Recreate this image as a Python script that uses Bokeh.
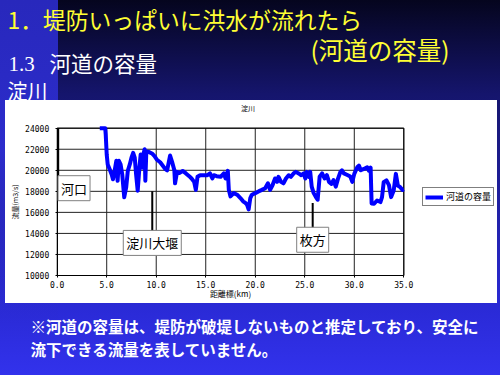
from bokeh.plotting import figure
from bokeh.models import (Range1d, Label, Legend, LegendItem, FixedTicker,
                          PrintfTickFormatter, LinearAxis)
from bokeh.embed import file_html
from bokeh.resources import INLINE

# ---------------- data ----------------
KM = [4.3, 4.85, 4.9, 5.0, 5.1, 5.3, 5.5, 5.63, 5.8, 5.97,
      6.1, 6.23, 6.4, 6.57, 6.77, 6.97, 7.13, 7.33, 7.5, 7.67,
      7.83, 7.97, 8.13, 8.3, 8.43, 8.57, 8.7, 8.83, 8.9, 9.0,
      9.23, 9.57, 9.83, 10.07, 10.4, 10.9, 11.1, 11.4, 11.6, 11.83,
      11.9, 12.1, 12.33, 12.67, 13.0, 13.33, 13.57, 13.83, 14.0, 14.17,
      14.43, 14.83, 15.17, 15.43, 15.67, 15.83, 16.1, 16.5, 16.83, 17.0,
      17.23, 17.33, 17.5, 17.83, 18.17, 18.5, 18.77, 19.0, 19.16, 19.33,
      19.5, 19.66, 20.0, 20.33, 20.67, 21.0, 21.28, 21.5, 21.75, 22.0,
      22.2, 22.35, 22.6, 22.85, 23.1, 23.37, 23.6, 23.87, 24.1, 24.38,
      24.65, 24.9, 25.05, 25.2, 25.4, 25.55, 25.7, 25.9, 26.1, 26.3,
      26.5, 26.75, 27.0, 27.23, 27.45, 27.7, 27.9, 28.13, 28.35, 28.6,
      28.75, 28.95, 29.3, 29.6, 29.8, 30.0, 30.3, 30.47, 30.65, 30.97,
      31.3, 31.47, 31.65, 31.75, 32.0, 32.3, 32.64, 32.8, 32.97, 33.25,
      33.5, 33.72, 33.98, 34.2, 34.4, 34.64, 34.87, 35.0]
CAPACITY = [24000, 24000, 23400, 21500, 20560, 20100, 19600, 19150, 19940, 20900,
            19000, 20900, 20560, 19600, 17440, 18400, 19940, 20560, 21200, 21650,
            21200, 19600, 18060, 20250, 21500, 20250, 21500, 22000, 19000, 21800,
            21750, 21600, 21350, 21000, 20760, 20130, 20000, 21400, 20800, 20000,
            18760, 19850, 19750, 19940, 19700, 19440, 19220, 18900, 18140, 19380,
            19530, 19530, 19530, 19700, 19220, 19530, 19440, 19380, 19700, 19220,
            19940, 18140, 17520, 17830, 17680, 17360, 17050, 16900, 16750, 16280,
            17360, 17680, 17830, 17990, 18140, 18300, 18760, 18140, 18600, 19220,
            18900, 19380, 18900, 18760, 19220, 19530, 19380, 19700, 19850, 19700,
            19530, 19700, 19220, 19850, 19380, 19850, 18450, 17830, 17500, 17200,
            19380, 19700, 19220, 19530, 18900, 18700, 19070, 18450, 19180, 19850,
            20000, 19700, 19550, 19400, 18900, 19660, 20290, 20450, 20000, 20130,
            20290, 19970, 20250, 16850, 16820, 17130, 16980, 17450, 18870, 19050,
            18580, 17450, 18080, 19660, 18550, 18390, 18140, 18200]
SERIES_NAME = "河道の容量"
CHART_TITLE = "淀川"
X_LABEL = "距離標(km)"
Y_LABEL = "流量(m3/s)"
X_TICKS = [0, 5, 10, 15, 20, 25, 30, 35]
Y_TICKS = [10000, 12000, 14000, 16000, 18000, 20000, 22000, 24000]

LANDMARK_NAMES = ["河口", "淀川大堰", "枚方"]
LANDMARK_KM = [0.1, 9.6, 25.8]
LEADER_TOP = [24000, 18000, 16900]
LEADER_BOTTOM = [19200, 14000, 14300]
BOX_KM = [1.7, 9.6, 25.8]

SLIDE_TITLE = "1．堤防いっぱいに洪水が流れたら"
SLIDE_SUBTITLE = "(河道の容量)"
SECTION_NO = "1.3"
SECTION_TITLE = "河道の容量"
RIVER = "淀川"
NOTE_1 = "※河道の容量は、堤防が破堤しないものと推定しており、安全に"
NOTE_2 = "流下できる流量を表していません。"

# ---------------- layout (pixels of the slide) ----------------
W, H = 500, 375
X0, X1 = 0.0, 35.0            # km axis range
Y0, Y1 = 10000.0, 24000.0     # discharge axis range
PX_L, PX_R = 56.7, 403.3      # where the chart's plot area sits on the slide
PY_T, PY_B = 127.7, 275.0
FONT = "Noto Sans CJK JP"

kpp = (X1 - X0) / (PX_R - PX_L)
qpp = (Y1 - Y0) / (PY_B - PY_T)
km_range = Range1d(X0 - PX_L * kpp, X1 + (W - PX_R) * kpp)
q_range = Range1d(Y0 - (H - PY_B) * qpp, Y1 + PY_T * qpp)

p = figure(width=W, height=H, output_backend="svg", toolbar_location=None,
           title=None, x_axis_type=None, y_axis_type=None, min_border=0,
           x_range=Range1d(0, W), y_range=Range1d(H, 0))
p.extra_x_ranges = {"km": km_range}
p.extra_y_ranges = {"q": q_range}
p.grid.visible = False
p.outline_line_color = None
p.background_fill_alpha = 0
p.border_fill_alpha = 0
p.styles = {
    "background": (
        "linear-gradient(#ffffff,#ffffff) 5px 100px / 492px 203px no-repeat, "
        "linear-gradient(to bottom, #2828bc 0%, #2c2ccc 40%, rgba(46,46,224,0) 90%) 0px 0px / 58px 100% no-repeat, "
        "linear-gradient(to bottom, #05051e 0%, #15156c 25%, #2a2ad6 82%, #3232ec 100%)"
    )
}

CH = dict(x_range_name="km", y_range_name="q")

# grid lines
p.segment(x0=X_TICKS, y0=[Y0] * len(X_TICKS), x1=X_TICKS, y1=[Y1] * len(X_TICKS),
          line_color="#222222", line_width=1, **CH)
p.segment(x0=[X0] * len(Y_TICKS), y0=Y_TICKS, x1=[X1] * len(Y_TICKS), y1=Y_TICKS,
          line_color="#222222", line_width=1, **CH)

# axes, drawn at the edges of the plot area
xaxis = LinearAxis(fixed_location=Y0, bounds=(X0, X1), **CH)
yaxis = LinearAxis(fixed_location=X0, bounds=(Y0, Y1), **CH)
for ax in (xaxis, yaxis):
    ax.axis_line_color = "black"
    ax.major_tick_line_color = "black"
    ax.major_tick_in = 0
    ax.major_tick_out = 2
    ax.minor_tick_line_color = None
    ax.major_label_text_font = "DejaVu Sans Mono"
    ax.major_label_text_font_size = "8px"
    ax.major_label_text_color = "black"
    ax.axis_label_text_font = FONT
    ax.axis_label_text_font_style = "normal"
    ax.axis_label_text_color = "black"
    ax.axis_label_text_font_size = "8px"
xaxis.ticker = FixedTicker(ticks=X_TICKS)
xaxis.formatter = PrintfTickFormatter(format="%.1f")
xaxis.major_label_standoff = 3
xaxis.axis_label = X_LABEL
xaxis.axis_label_standoff = -3
yaxis.ticker = FixedTicker(ticks=Y_TICKS)
yaxis.formatter = PrintfTickFormatter(format="%d")
yaxis.major_label_standoff = 6
yaxis.axis_label = Y_LABEL
yaxis.axis_label_standoff = 2
yaxis.axis_label_text_font_size = "7px"
p.add_layout(xaxis, "below")
p.add_layout(yaxis, "left")

# top and right borders of the plot area
p.segment(x0=[X0, X1], y0=[Y1, Y0], x1=[X1, X1], y1=[Y1, Y1],
          line_color="black", line_width=1, **CH)

# data line
line = p.line(KM, CAPACITY, line_color="#0000ff", line_width=4, line_join="round", **CH)

# leader lines and landmark boxes
p.segment(x0=LANDMARK_KM, y0=LEADER_TOP, x1=LANDMARK_KM, y1=LEADER_BOTTOM,
          line_color="black", line_width=2, **CH)
for name, bx, by in zip(LANDMARK_NAMES, BOX_KM, LEADER_BOTTOM):
    p.add_layout(Label(x=bx, y=by, y_offset=3, text=name, text_align="center",
                       text_baseline="top", text_font=FONT, text_font_size="13px",
                       text_color="black", padding=3, background_fill_color="white",
                       border_line_color="#808080", border_line_width=1, **CH))

# legend to the right of the plot area
legend = Legend(items=[LegendItem(label=SERIES_NAME, renderers=[line])],
                location=(422, H - 206), orientation="vertical",
                padding=2, spacing=0, margin=0, label_standoff=3,
                glyph_width=18, glyph_height=6, label_height=6,
                label_text_font=FONT, label_text_font_size="9px",
                label_text_color="black",
                border_line_color="black", border_line_width=1,
                background_fill_color="white", background_fill_alpha=1)
p.add_layout(legend)


def put(x, y, text, size, color, font=FONT, style="normal", align="left"):
    p.add_layout(Label(x=x, y=y, text=text, text_align=align, text_baseline="middle",
                       text_font=font, text_font_size=size, text_color=color,
                       text_font_style=style))


put(7, 19, SLIDE_TITLE, "22.8px", "#ffff33")
put(310, 49, SLIDE_SUBTITLE, "24.5px", "#ffff33")
put(8, 63, SECTION_NO, "21px", "white", font="Liberation Serif")
put(49, 62, SECTION_TITLE, "21.5px", "white")
put(7, 90, RIVER, "20px", "white")
put(247.5, 107, CHART_TITLE, "7px", "black", align="center")
put(30, 325, NOTE_1, "15.5px", "white", style="bold")
put(30, 348, NOTE_2, "15.5px", "white", style="bold")

open("out.html", "w").write(file_html(p, INLINE))
